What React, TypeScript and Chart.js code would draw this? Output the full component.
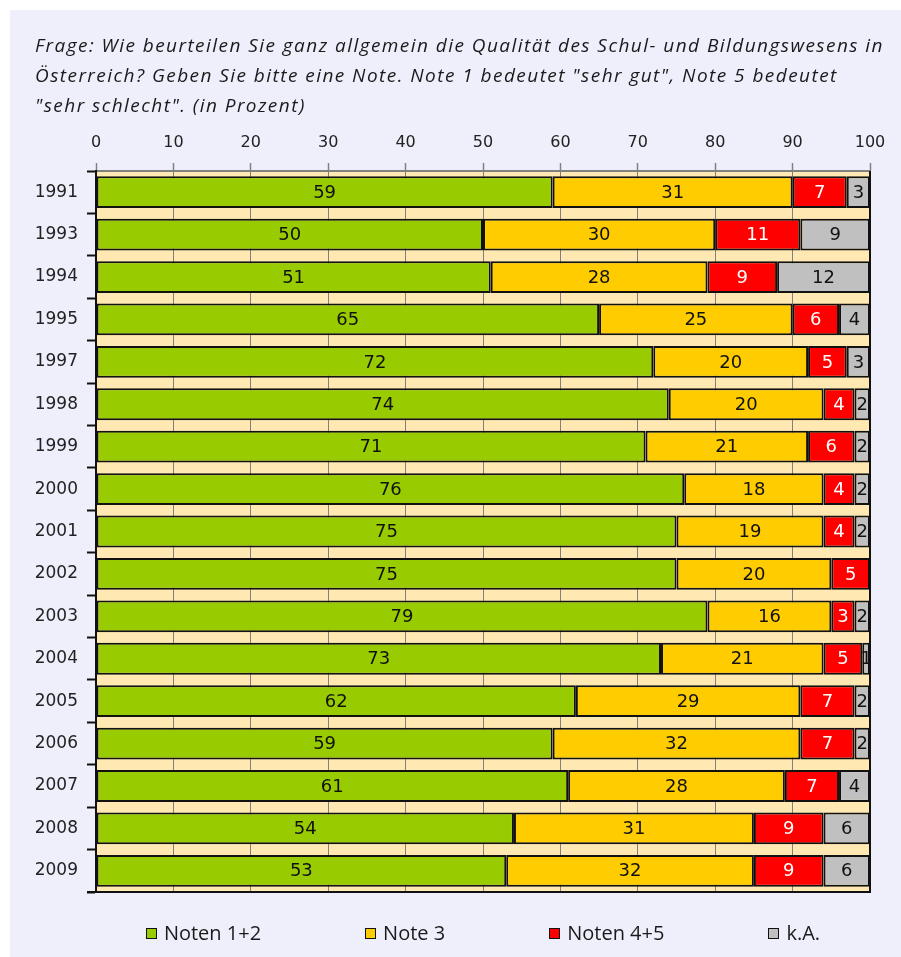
import React, { useEffect, useRef } from "react";
import { Chart, registerables } from "chart.js";

Chart.register(...registerables);

const years = ["1991", "1993", "1994", "1995", "1997", "1998", "1999", "2000", "2001", "2002", "2003", "2004", "2005", "2006", "2007", "2008", "2009"];
const noten12 = [59, 50, 51, 65, 72, 74, 71, 76, 75, 75, 79, 73, 62, 59, 61, 54, 53];
const note3 = [31, 30, 28, 25, 20, 20, 21, 18, 19, 20, 16, 21, 29, 32, 28, 31, 32];
const noten45 = [7, 11, 9, 6, 5, 4, 6, 4, 4, 5, 3, 5, 7, 7, 7, 9, 9];
const keineAngabe = [3, 9, 12, 4, 3, 2, 2, 2, 2, 0, 2, 1, 2, 2, 4, 6, 6];

const seriesNames = ["Noten 1+2", "Note 3", "Noten 4+5", "k.A."];
const seriesColors = ["#99CC00", "#FFCC00", "#FF0000", "#C0C0C0"];
const labelColors = ["#111111", "#111111", "#FFFFFF", "#111111"];
const axisMin = 0;
const axisMax = 100;
const axisStep = 10;

const titleLines = [
  "Frage: Wie beurteilen Sie ganz allgemein die Qualität des Schul- und Bildungswesens in",
  "Österreich? Geben Sie bitte eine Note. Note 1 bedeutet \"sehr gut\", Note 5 bedeutet",
  "\"sehr schlecht\". (in Prozent)",
];

const FONT = "'Open Sans', 'DejaVu Sans', sans-serif";
const NUMFONT = "'DejaVu Sans', 'Open Sans', sans-serif";

const bgPlugin = {
  id: "plotBg",
  beforeDraw(chart: any) {
    const { ctx, chartArea: a } = chart;
    ctx.save();
    ctx.fillStyle = "#FFE8B2";
    ctx.fillRect(a.left, a.top, a.right - a.left, a.bottom - a.top);
    ctx.restore();
  },
};

const labelPlugin = {
  id: "segLabels",
  afterDatasetsDraw(chart: any) {
    const { ctx, chartArea: a } = chart;
    ctx.save();
    ctx.beginPath();
    ctx.rect(a.left, a.top, a.right - a.left, a.bottom - a.top);
    ctx.clip();
    ctx.font = `18px ${NUMFONT}`;
    ctx.textAlign = "center";
    ctx.textBaseline = "middle";
    chart.data.datasets.forEach((ds: any, i: number) => {
      const meta = chart.getDatasetMeta(i);
      meta.data.forEach((el: any, j: number) => {
        const v = ds.data[j];
        if (!v) return;
        const p = el.getProps(["x", "y", "base"], true);
        ctx.fillStyle = labelColors[i];
        ctx.fillText(String(v), (p.x + p.base) / 2, p.y + 1);
      });
    });
    ctx.restore();
    // plot frame bottom + right
    ctx.save();
    ctx.strokeStyle = "#111";
    ctx.lineWidth = 2;
    ctx.beginPath();
    ctx.moveTo(a.left - 9, a.bottom);
    ctx.lineTo(a.right + 1, a.bottom);
    ctx.moveTo(a.right, a.top);
    ctx.lineTo(a.right, a.bottom);
    ctx.stroke();
    ctx.restore();
  },
};

export default function App() {
  const canvasRef = useRef<HTMLCanvasElement | null>(null);

  useEffect(() => {
    if (!canvasRef.current) return;
    const series = [noten12, note3, noten45, keineAngabe];
    const chart = new Chart(canvasRef.current, {
      type: "bar",
      data: {
        labels: years,
        datasets: series.map((d, i) => ({
          label: seriesNames[i],
          data: d,
          backgroundColor: seriesColors[i],
          borderColor: "#111",
          borderWidth: 2,
          borderSkipped: false,
          barPercentage: 0.75,
          categoryPercentage: 1,
        })),
      },
      options: {
        indexAxis: "y",
        animation: false,
        responsive: false,
        devicePixelRatio: 1,
        layout: { padding: { left: 0, right: 31, top: 110, bottom: 65 } },
        plugins: {
          legend: { display: false },
          tooltip: { enabled: false },
          title: { display: false },
        },
        scales: {
          x: {
            type: "linear",
            position: "top",
            stacked: true,
            min: axisMin,
            max: axisMax,
            ticks: {
              stepSize: axisStep,
              padding: 11,
              color: "#222",
              font: { family: NUMFONT, size: 16 },
            },
            grid: {
              color: (c: any) => (c.tick && c.tick.value === axisMax ? "#222" : "#808080"),
              lineWidth: 1,
              tickLength: 8,
              tickColor: "#808080",
              tickWidth: 1.5,
            },
            border: { color: "#808080", width: 2 },
            afterFit: (s: any) => {
              s.height = 61;
            },
          },
          y: {
            type: "category",
            stacked: true,
            ticks: {
              padding: 9,
              color: "#222",
              font: { family: NUMFONT, size: 17 },
            },
            grid: {
              drawOnChartArea: false,
              offset: true,
              tickLength: 9,
              tickColor: "#111",
              tickWidth: 2,
            },
            border: { color: "#111", width: 2 },
            afterFit: (s: any) => {
              s.width = 96;
            },
          },
        },
      },
      plugins: [bgPlugin, labelPlugin],
    } as any);
    return () => chart.destroy();
  }, []);

  return (
    <div>
      <div
        style={{
          position: "absolute",
          left: 10,
          top: 10,
          width: 891,
          height: 947,
          background: "#EFEFFC",
        }}
      />
      <canvas
        ref={canvasRef}
        width={901}
        height={957}
        style={{ position: "absolute", left: 0, top: 0, width: 901, height: 957 }}
      />
      <div
        style={{
          position: "absolute",
          left: 35,
          top: 30,
          fontFamily: FONT,
          fontStyle: "italic",
          fontSize: 19,
          letterSpacing: "1.45px",
          lineHeight: "30px",
          color: "#1a1a1a",
          whiteSpace: "nowrap",
        }}
      >
        {titleLines.map((t, i) => (
          <div key={i}>{t}</div>
        ))}
      </div>
      <div
        style={{
          position: "absolute",
          left: 96,
          width: 774,
          top: 918,
          display: "flex",
          justifyContent: "center",
          alignItems: "center",
          fontFamily: FONT,
          fontSize: 20,
          color: "#1a1a1a",
          lineHeight: "30px",
        }}
      >
        {seriesNames.map((n, i) => (
          <div
            key={n}
            style={{
              display: "flex",
              alignItems: "center",
              marginRight: i < seriesNames.length - 1 ? 104 : 0,
            }}
          >
            <span
              style={{
                display: "inline-block",
                width: 9,
                height: 9,
                background: seriesColors[i],
                border: "1.5px solid #111",
                marginRight: 7,
              }}
            />
            <span>{n}</span>
          </div>
        ))}
      </div>
    </div>
  );
}
